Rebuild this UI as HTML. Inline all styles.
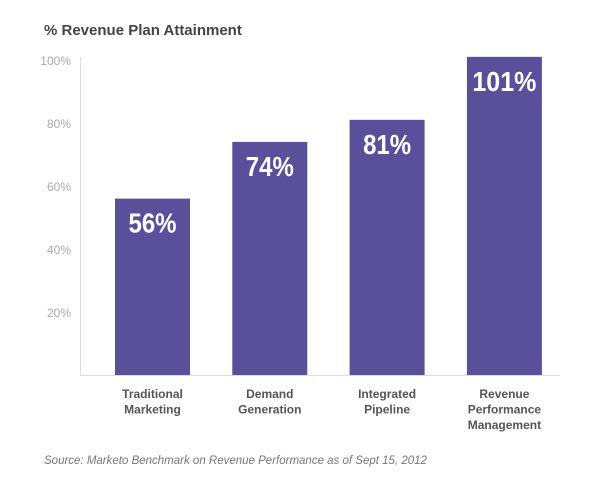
<!DOCTYPE html>
<html><head><meta charset="utf-8"><style>
body{margin:0;background:#fff;width:600px;height:487px;overflow:hidden}
svg{display:block}
text{font-family:"Liberation Sans",sans-serif}
</style></head><body>
<svg id="c" width="600" height="487">
<text x="44" y="35" font-size="15" font-weight="bold" fill="#444">% Revenue Plan Attainment</text>
<line x1="80.5" y1="57" x2="80.5" y2="375" stroke="#ddd"/>
<line x1="80" y1="375.5" x2="560" y2="375.5" stroke="#ddd"/>
<text x="44" y="464" font-size="11.5" font-style="italic" fill="#777">Source: Marketo Benchmark on Revenue Performance as of Sept 15, 2012</text>
</svg>
<script>
const categories=[["Traditional","Marketing"],["Demand","Generation"],["Integrated","Pipeline"],["Revenue","Performance","Management"]];
const values=[56,74,81,101];
const ticks=[20,40,60,80,100];
const svg=document.getElementById('c');const NS='http://www.w3.org/2000/svg';
const y=v=>375-v*3.15;
const x=i=>115+i*117.3;
function mk(t,a,txt){const e=document.createElementNS(NS,t);for(const k in a)e.setAttribute(k,a[k]);if(txt!=null)e.textContent=txt;svg.appendChild(e);return e;}
ticks.forEach(t=>{const e=mk('text',{x:71,y:y(t)+5,'font-size':12,fill:'#aaa','text-anchor':'end'},t+'%');

});
values.forEach((v,i)=>{const r=mk('rect',{x:x(i),y:y(v),width:75,height:375-y(v),fill:'#5a4f9b'});


const s=v+'%';
const t=mk('text',{x:x(i)+37.5,y:y(v)+34,'font-size':28,'font-weight':'bold',fill:'#fff','text-anchor':'middle',textLength:s.length*16,lengthAdjust:'spacingAndGlyphs'},s);


categories[i].forEach((l,j)=>{const c=mk('text',{x:x(i)+37.5,y:398+j*15.5,'font-size':12,'font-weight':'bold',fill:'#555','text-anchor':'middle'},l);

});});
</script>
</body></html>
